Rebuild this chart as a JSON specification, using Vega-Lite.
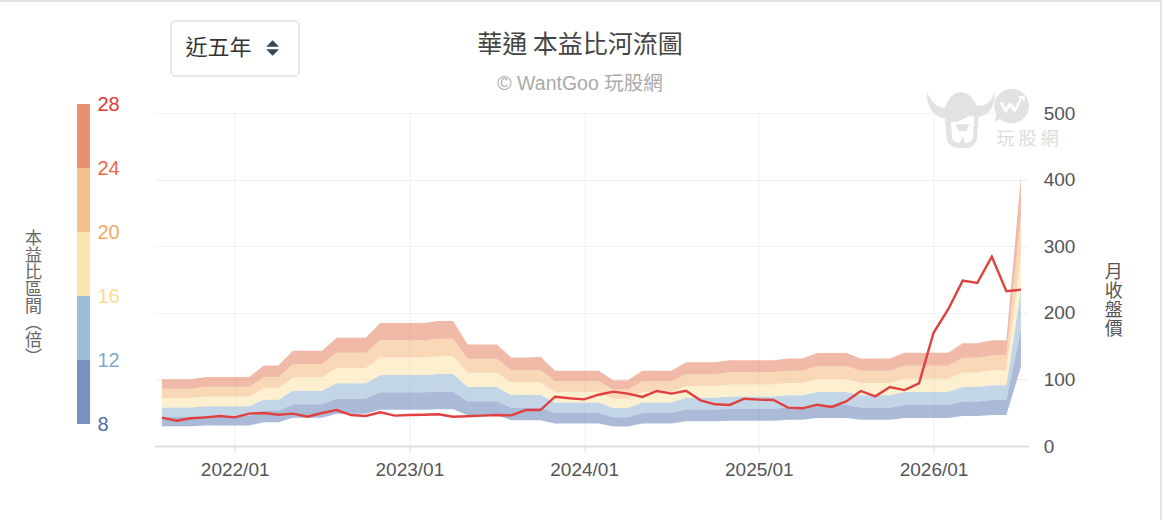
{
  "$schema": "https://vega.github.io/schema/vega-lite/v6.json",
  "description": "華通 本益比河流圖",
  "background": "white",
  "padding": {"left": -2, "top": -2, "right": 0, "bottom": 0},
  "bounds": "flush",
  "spacing": 64.6,
  "config": {
    "view": {"stroke": "transparent"},
    "font": "Liberation Sans"
  },
  "datasets": {
    "river": [
      {"m":"2021/08","p8":29.6,"p12":43.7,"p16":57.8,"p20":72,"p24":86.1,"p28":100.2,"close":42.6},
      {"m":"2021/09","p8":29.6,"p12":43.7,"p16":57.8,"p20":72,"p24":86.1,"p28":100.2,"close":38},
      {"m":"2021/10","p8":29.6,"p12":43.7,"p16":57.8,"p20":72,"p24":86.1,"p28":100.2,"close":41.6},
      {"m":"2021/11","p8":30.6,"p12":45.2,"p16":59.8,"p20":74.4,"p24":89,"p28":103.6,"close":43},
      {"m":"2021/12","p8":30.6,"p12":45.2,"p16":59.8,"p20":74.4,"p24":89,"p28":103.6,"close":45},
      {"m":"2022/01","p8":30.6,"p12":45.2,"p16":59.8,"p20":74.4,"p24":89,"p28":103.6,"close":43},
      {"m":"2022/02","p8":30.6,"p12":45.2,"p16":59.8,"p20":74.4,"p24":89,"p28":103.6,"close":48.6},
      {"m":"2022/03","p8":35.6,"p12":52.6,"p16":69.6,"p20":86.7,"p24":103.7,"p28":120.7,"close":49.6},
      {"m":"2022/04","p8":35.6,"p12":52.6,"p16":69.6,"p20":86.7,"p24":103.7,"p28":120.7,"close":47},
      {"m":"2022/05","p8":42.6,"p12":62.7,"p16":82.8,"p20":103,"p24":123.1,"p28":143.2,"close":48.6},
      {"m":"2022/06","p8":42.6,"p12":62.7,"p16":82.8,"p20":103,"p24":123.1,"p28":143.2,"close":44},
      {"m":"2022/07","p8":42.6,"p12":62.7,"p16":82.8,"p20":103,"p24":123.1,"p28":143.2,"close":49.6},
      {"m":"2022/08","p8":48.6,"p12":71.4,"p16":94.2,"p20":117.1,"p24":139.9,"p28":162.7,"close":54},
      {"m":"2022/09","p8":48.6,"p12":71.4,"p16":94.2,"p20":117.1,"p24":139.9,"p28":162.7,"close":46.5},
      {"m":"2022/10","p8":48.6,"p12":71.4,"p16":94.2,"p20":117.1,"p24":139.9,"p28":162.7,"close":45},
      {"m":"2022/11","p8":54.6,"p12":80.6,"p16":106.6,"p20":132.7,"p24":158.7,"p28":184.7,"close":50.6},
      {"m":"2022/12","p8":54.6,"p12":80.6,"p16":106.6,"p20":132.7,"p24":158.7,"p28":184.7,"close":45.6},
      {"m":"2023/01","p8":54.6,"p12":80.6,"p16":106.6,"p20":132.7,"p24":158.7,"p28":184.7,"close":46.5},
      {"m":"2023/02","p8":54.6,"p12":80.6,"p16":106.6,"p20":132.7,"p24":158.7,"p28":184.7,"close":47},
      {"m":"2023/03","p8":55,"p12":81.5,"p16":108,"p20":134.7,"p24":161.2,"p28":187.7,"close":47.6},
      {"m":"2023/04","p8":55,"p12":81.5,"p16":108,"p20":134.7,"p24":161.2,"p28":187.7,"close":44},
      {"m":"2023/05","p8":46,"p12":67.3,"p16":88.6,"p20":109.9,"p24":131,"p28":152.3,"close":44.6},
      {"m":"2023/06","p8":46,"p12":67.3,"p16":88.6,"p20":109.9,"p24":131,"p28":152.3,"close":45.6},
      {"m":"2023/07","p8":46,"p12":67.3,"p16":88.6,"p20":109.9,"p24":131,"p28":152.3,"close":46.5},
      {"m":"2023/08","p8":38.6,"p12":57.5,"p16":76.4,"p20":95.2,"p24":114.1,"p28":133,"close":46},
      {"m":"2023/09","p8":38.6,"p12":57.5,"p16":76.4,"p20":95.2,"p24":114.1,"p28":133,"close":54},
      {"m":"2023/10","p8":38.6,"p12":57.5,"p16":76.4,"p20":95.2,"p24":114.1,"p28":134,"close":54},
      {"m":"2023/11","p8":33.6,"p12":49.5,"p16":65.4,"p20":81.2,"p24":97.1,"p28":113,"close":74},
      {"m":"2023/12","p8":33.6,"p12":49.5,"p16":65.4,"p20":81.2,"p24":97.1,"p28":113,"close":71.6},
      {"m":"2024/01","p8":33.6,"p12":49.5,"p16":65.4,"p20":81.2,"p24":97.1,"p28":113,"close":70},
      {"m":"2024/02","p8":33.6,"p12":49.5,"p16":65.4,"p20":81.2,"p24":97.1,"p28":113,"close":77},
      {"m":"2024/03","p8":29.1,"p12":43,"p16":56.9,"p20":70.8,"p24":84.7,"p28":98.6,"close":81.6},
      {"m":"2024/04","p8":29.1,"p12":43,"p16":56.9,"p20":70.8,"p24":84.7,"p28":98.6,"close":78.6},
      {"m":"2024/05","p8":33.6,"p12":49.5,"p16":65.4,"p20":81.2,"p24":97.1,"p28":113,"close":73.6},
      {"m":"2024/06","p8":33.6,"p12":49.5,"p16":65.4,"p20":81.2,"p24":97.1,"p28":113,"close":82.6},
      {"m":"2024/07","p8":33.6,"p12":49.5,"p16":65.4,"p20":81.2,"p24":97.1,"p28":113,"close":78.6},
      {"m":"2024/08","p8":37,"p12":54.7,"p16":72.4,"p20":90.2,"p24":107.9,"p28":125.7,"close":83},
      {"m":"2024/09","p8":37,"p12":54.7,"p16":72.4,"p20":90.2,"p24":107.9,"p28":125.7,"close":68.6},
      {"m":"2024/10","p8":37,"p12":54.7,"p16":72.4,"p20":90.2,"p24":107.9,"p28":125.7,"close":62.6},
      {"m":"2024/11","p8":38,"p12":56.1,"p16":74.3,"p20":92.4,"p24":110.6,"p28":128.7,"close":61.6},
      {"m":"2024/12","p8":38,"p12":56.1,"p16":74.3,"p20":92.4,"p24":110.6,"p28":128.7,"close":71},
      {"m":"2025/01","p8":38,"p12":56.1,"p16":74.3,"p20":92.4,"p24":110.6,"p28":128.7,"close":69.6},
      {"m":"2025/02","p8":38,"p12":56.1,"p16":74.3,"p20":92.4,"p24":110.6,"p28":128.7,"close":69},
      {"m":"2025/03","p8":39.6,"p12":57.9,"p16":76.2,"p20":94.6,"p24":112.9,"p28":131.2,"close":57.6},
      {"m":"2025/04","p8":39.6,"p12":57.9,"p16":76.2,"p20":94.6,"p24":112.9,"p28":131.2,"close":56.6},
      {"m":"2025/05","p8":42,"p12":61.5,"p16":81.1,"p20":100.6,"p24":120.2,"p28":139.7,"close":62},
      {"m":"2025/06","p8":42,"p12":61.5,"p16":81.1,"p20":100.6,"p24":120.2,"p28":139.7,"close":58.6},
      {"m":"2025/07","p8":42,"p12":61.5,"p16":81.1,"p20":100.6,"p24":120.2,"p28":139.7,"close":67},
      {"m":"2025/08","p8":39.6,"p12":57.9,"p16":76.2,"p20":94.6,"p24":112.9,"p28":131.2,"close":82.6},
      {"m":"2025/09","p8":39.6,"p12":57.9,"p16":76.2,"p20":94.6,"p24":112.9,"p28":131.2,"close":74.6},
      {"m":"2025/10","p8":39.6,"p12":57.9,"p16":76.2,"p20":94.6,"p24":112.9,"p28":131.2,"close":88.6},
      {"m":"2025/11","p8":42,"p12":61.6,"p16":81.2,"p20":100.8,"p24":120.4,"p28":140,"close":84},
      {"m":"2025/12","p8":42,"p12":61.6,"p16":81.2,"p20":100.8,"p24":120.4,"p28":140,"close":94},
      {"m":"2026/01","p8":42,"p12":61.6,"p16":81.2,"p20":100.8,"p24":120.4,"p28":140,"close":170},
      {"m":"2026/02","p8":42,"p12":61.6,"p16":81.2,"p20":100.8,"p24":120.4,"p28":140,"close":205},
      {"m":"2026/03","p8":45,"p12":66.8,"p16":88.7,"p20":110.5,"p24":132.4,"p28":154.2,"close":248.3},
      {"m":"2026/04","p8":45,"p12":66.8,"p16":88.7,"p20":110.5,"p24":132.4,"p28":154.2,"close":244.7},
      {"m":"2026/05","p8":46.5,"p12":68.9,"p16":91.4,"p20":113.8,"p24":136.3,"p28":158.7,"close":284.3},
      {"m":"2026/06","p8":46.5,"p12":68.9,"p16":91.4,"p20":113.8,"p24":136.3,"p28":158.7,"close":232.3},
      {"m":"2026/07","p8":118.7,"p12":176,"p16":233,"p20":290,"p24":348,"p28":405,"close":234.8}
    ]
  },
  "hconcat": [
    {
      "width": 13,
      "height": 333,
      "data": {
        "values": [
          {"from": 8, "to": 12, "band": "8-12"},
          {"from": 12, "to": 16, "band": "12-16"},
          {"from": 16, "to": 20, "band": "16-20"},
          {"from": 20, "to": 24, "band": "20-24"},
          {"from": 24, "to": 28, "band": "24-28"}
        ]
      },
      "mark": {"type": "rect", "clip": false},
      "encoding": {
        "y": {
          "field": "from",
          "type": "quantitative",
          "scale": {"domain": [8, 28], "range": [311, -9], "nice": false, "zero": false},
          "axis": {
            "orient": "right",
            "values": [8, 12, 16, 20, 24, 28],
            "domain": false,
            "ticks": false,
            "grid": false,
            "labelFontSize": 20,
            "labelPadding": 7,
            "labelColor": {
              "condition": [
                {"test": "datum.value == 28", "value": "#e03b36"},
                {"test": "datum.value == 24", "value": "#e8684a"},
                {"test": "datum.value == 20", "value": "#f4a866"},
                {"test": "datum.value == 16", "value": "#fbdc93"},
                {"test": "datum.value == 12", "value": "#7fa9d2"}
              ],
              "value": "#4a6fb0"
            },
            "title": ["本", "益", "比", "區", "間", "︵", "倍", "︶"],
            "titleFont": "Noto Sans CJK TC",
            "titleFontSize": 17,
            "titleFontWeight": "normal",
            "titleColor": "#666666",
            "titleAngle": 0,
            "titleLineHeight": 17,
            "titleAlign": "center",
            "titleBaseline": "top",
            "titleX": -57,
            "titleY": 117
          }
        },
        "y2": {"field": "to"},
        "color": {
          "field": "band",
          "type": "nominal",
          "legend": null,
          "scale": {
            "domain": ["8-12", "12-16", "16-20", "20-24", "24-28"],
            "range": ["#7792bf", "#9dbdd9", "#fae6b3", "#f4c08b", "#e98f72"]
          }
        }
      }
    },
    {
      "width": 873.6,
      "height": 333,
      "title": {
        "text": "華通 本益比河流圖",
        "subtitle": "© WantGoo 玩股網",
        "font": "Noto Sans CJK TC",
        "fontSize": 25,
        "fontWeight": "normal",
        "color": "#444444",
        "subtitleFont": "Liberation Sans, Noto Sans CJK TC",
        "subtitleFontSize": 19.5,
        "subtitleColor": "#aaaaaa",
        "subtitlePadding": 17,
        "anchor": "middle",
        "dx": -11.4,
        "offset": -94
      },
      "data": {"name": "river"},
      "encoding": {
        "x": {
          "field": "m",
          "type": "ordinal",
          "scale": {"type": "point", "padding": 0.5},
          "axis": {
            "title": null,
            "values": ["2022/01", "2023/01", "2024/01", "2025/01", "2026/01"],
            "labelAngle": 0,
            "labelFontSize": 19,
            "labelColor": "#555555",
            "labelPadding": 8,
            "grid": true,
            "gridColor": "#eeeeee",
            "domainColor": "#dddddd",
            "domainWidth": 2,
            "tickColor": "#dddddd",
            "tickSize": 6
          }
        }
      },
      "layer": [
        {
          "mark": {"type": "area", "color": "#7792bf", "opacity": 0.62},
          "encoding": {
            "y": {
              "field": "p8",
              "type": "quantitative",
              "scale": {"domain": [0, 500], "nice": false},
              "axis": {
                "orient": "right",
                "values": [0, 100, 200, 300, 400, 500],
                "domain": false,
                "ticks": false,
                "grid": true,
                "gridColor": "#f1f1f1",
                "labelFontSize": 19,
                "labelColor": "#555555",
                "labelPadding": 15,
                "title": ["月", "收", "盤", "價"],
                "titleFont": "Noto Sans CJK TC",
                "titleFontSize": 18,
                "titleFontWeight": "normal",
                "titleColor": "#555555",
                "titleAngle": 0,
                "titleLineHeight": 19,
                "titleAlign": "center",
                "titleBaseline": "top",
                "titleX": 85,
                "titleY": 150
              }
            },
            "y2": {"field": "p12"}
          }
        },
        {
          "mark": {"type": "area", "color": "#9dbdd9", "opacity": 0.62},
          "encoding": {"y": {"field": "p12", "type": "quantitative"}, "y2": {"field": "p16"}}
        },
        {
          "mark": {"type": "area", "color": "#fae6b3", "opacity": 0.62},
          "encoding": {"y": {"field": "p16", "type": "quantitative"}, "y2": {"field": "p20"}}
        },
        {
          "mark": {"type": "area", "color": "#f4c08b", "opacity": 0.62},
          "encoding": {"y": {"field": "p20", "type": "quantitative"}, "y2": {"field": "p24"}}
        },
        {
          "mark": {"type": "area", "color": "#e98f72", "opacity": 0.62},
          "encoding": {"y": {"field": "p24", "type": "quantitative"}, "y2": {"field": "p28"}}
        },
        {
          "mark": {"type": "line", "color": "#e04040", "strokeWidth": 2.4},
          "encoding": {"y": {"field": "close", "type": "quantitative"}}
        },
        {
          "data": {"values": [{"label": "top"}]},
          "mark": {"type": "rule", "y": -112, "color": "#e4e4e4", "strokeWidth": 2},
          "encoding": {"x": {"value": -154.6}, "x2": {"value": 1007.4}}
        },
        {
          "data": {"values": [{"label": "right"}]},
          "mark": {"type": "rule", "x": 1006.4, "color": "#e4e4e4", "strokeWidth": 2},
          "encoding": {"x": {"value": 1006.4}, "y": {"value": -113}, "y2": {"value": 407}}
        },
        {
          "data": {"values": [{"label": "近五年"}]},
          "mark": {"type": "rect", "x2": 144.4, "y": -92, "y2": -37, "fill": "white", "stroke": "#ced4da", "cornerRadius": 4, "clip": false},
          "encoding": {"x": {"value": 16.4}}
        },
        {
          "data": {"values": [{"label": "近五年"}]},
          "mark": {"type": "text", "y": -65, "align": "left", "baseline": "middle", "font": "Noto Sans CJK TC", "fontSize": 22, "color": "#333333"},
          "encoding": {"x": {"value": 31}, "text": {"field": "label"}}
        },
        {
          "data": {"values": [{"label": "up"}]},
          "mark": {"type": "point", "shape": "M-1,.5 L0,-.5 L1,.5 Z", "filled": true, "size": 169, "color": "#34495e", "opacity": 1, "y": -69.5},
          "encoding": {"x": {"value": 118}}
        },
        {
          "data": {"values": [{"label": "down"}]},
          "mark": {"type": "point", "shape": "M-1,-.5 L0,.5 L1,-.5 Z", "filled": true, "size": 169, "color": "#34495e", "opacity": 1, "y": -60.5},
          "encoding": {"x": {"value": 118}}
        },
        {
          "data": {"values": [{"label": "玩 股 網"}]},
          "mark": {"type": "text", "y": 27, "align": "center", "baseline": "middle", "font": "Noto Sans CJK TC", "fontSize": 18, "color": "#dcdcdc"},
          "encoding": {"x": {"value": 873}, "text": {"field": "label"}}
        },
        {
          "data": {"values": [{"label": "logo"}]},
          "mark": {"type": "point", "filled": true, "opacity": 1, "color": "#e2e2e2", "size": 5000, "y": 7, "shape": "M-1,-.8 C-1.05,-.3 -.7,-.05 -.5,-.05 L-.45,.55 C-.4,.75 -.2,.8 0,.8 C.2,.8 .35,.75 .4,.55 L.45,-.1 C.7,-.1 .95,-.35 .9,-.8 C.8,-.45 .6,-.4 .4,-.4 C.2,-.9 -.3,-.95 -.5,-.35 C-.7,-.35 -.9,-.5 -1,-.8 Z M-.33,.05 C0,.1 .15,-.2 .33,-.1 L.3,.5 C.25,.62 .15,.65 .08,.65 L0,.45 L-.08,.65 C-.15,.65 -.25,.62 -.3,.5 Z M-.2,.12 L-.1,.32 L.1,.32 L.2,.12 Z"},
          "encoding": {"x": {"value": 808}}
        },
        {
          "data": {"values": [{"label": "bubble"}]},
          "mark": {"type": "point", "filled": true, "opacity": 1, "color": "#e2e2e2", "size": 1200, "y": -7, "shape": "M-1,0 C-1,-.55 -.55,-1 0,-1 C.55,-1 1,-.55 1,0 C1,.55 .55,1 0,1 C-.3,1 -.5,.9 -.7,.75 L-1,.95 L-.88,.45 C-.95,.3 -1,.15 -1,0 Z M-.7,-.2 L-.35,.45 L-.1,.05 L.2,.4 L.6,-.45 L.75,-.2 L.75,-.6 L.35,-.55 L.5,-.45 L.2,.1 L-.1,-.25 L-.35,.1 L-.5,-.2 Z"},
          "encoding": {"x": {"value": 857}}
        }
      ]
    }
  ]
}
